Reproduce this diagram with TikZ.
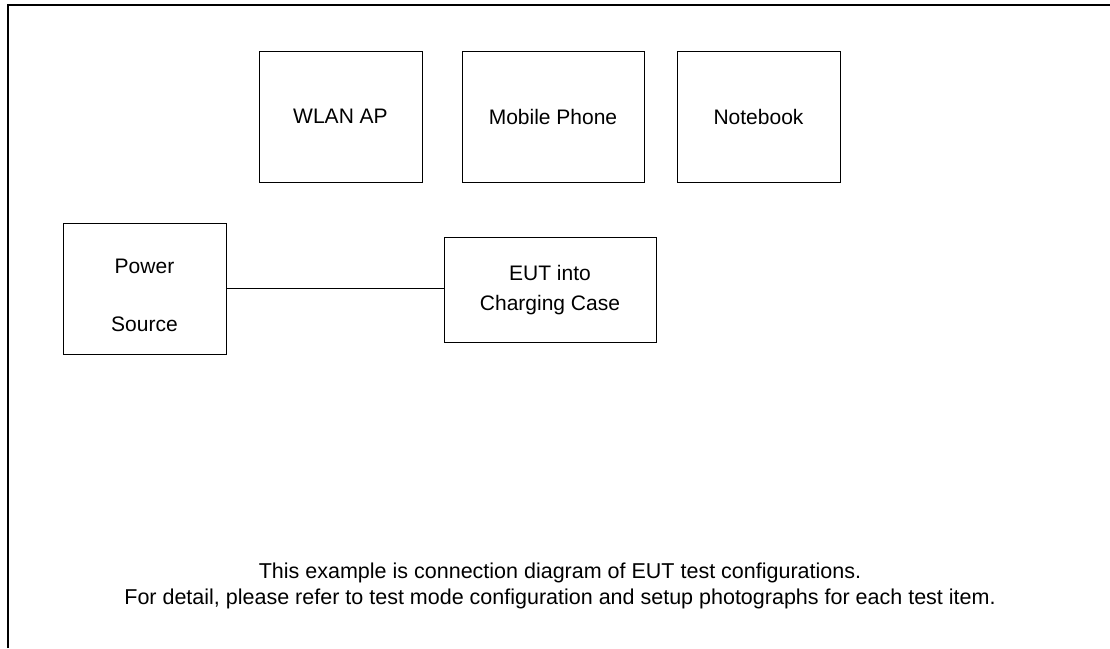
\documentclass[tikz,border=0pt]{standalone}
\usepackage{fontspec}
\setmainfont{Liberation Sans}
\tikzset{
  unit/.style={draw,line width=1pt,align=center,inner sep=0pt,font=\fontsize{21}{29.5}\selectfont},
  note/.style={inner sep=0pt,anchor=base,font=\fontsize{21.5}{26}\selectfont}
}
\begin{document}
\begin{tikzpicture}[x=1pt,y=-1pt]
\useasboundingbox (0,0) rectangle (1110,648);
\draw[line width=2pt] (8,648) -- (8,4.5) -- (1110,4.5);
\node[unit,minimum width=163pt,minimum height=131pt] (wlan) at (340.5,116.5) {WLAN AP};
\node[unit,minimum width=182pt,minimum height=131pt] (phone) at (553,116.5) {Mobile Phone};
\node[unit,minimum width=163pt,minimum height=131pt] (notebook) at (758.5,116.5) {Notebook};
\node[unit,minimum width=163pt,minimum height=131pt,font=\fontsize{21}{58}\selectfont] (power) at (144.5,288.5) {\rule{0pt}{29pt}Power\\Source};
\node[unit,minimum width=212pt,minimum height=105pt] (eut) at (550,290) {EUT into\\Charging Case};
\node[note] (note1) at (560,578) {This example is connection diagram of EUT test configurations.};
\node[note] (note2) at (560,604) {For detail, please refer to test mode configuration and setup photographs for each test item.};
\draw[line width=1pt] (power.east) -- (power.east -| eut.west);
\end{tikzpicture}
\end{document}
